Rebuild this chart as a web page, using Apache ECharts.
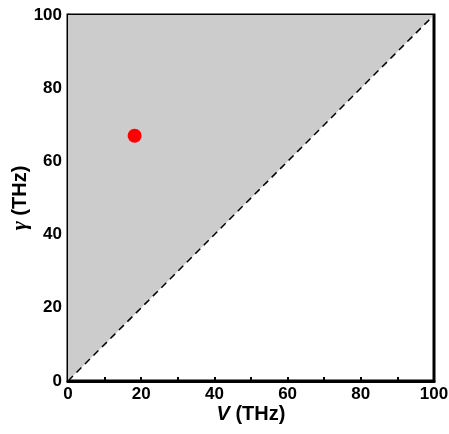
<!DOCTYPE html>
<html>
<head>
<meta charset="utf-8">
<script src="https://cdn.jsdelivr.net/npm/echarts@6/dist/echarts.min.js"></script>
<style>
  html, body { margin: 0; padding: 0; background: #fff; }
  #chart { width: 449px; height: 434px; }
</style>
</head>
<body>
<div id="chart"></div>
<script>
// boundary of the shaded region (y = x)
const diagonal = [[0, 0], [100, 100]]
// measured point
const points = [[18.2, 67]]

const chart = echarts.init(document.getElementById('chart'))

const axisCommon = {
  min: 0,
  max: 100,
  interval: 20,
  axisLine: { show: true, onZero: false, lineStyle: { color: '#000', width: 3 } },
  axisTick: { show: true, inside: true, length: 4, lineStyle: { color: '#000', width: 2 } },
  minorTick: { show: true, splitNumber: 2, length: 4, lineStyle: { color: '#000', width: 2 } },
  splitLine: { show: false },
  axisLabel: {
    color: '#000',
    fontFamily: 'Liberation Sans',
    fontWeight: 'bold',
    fontSize: 17
  },
  nameLocation: 'middle',
  nameMoveOverlap: false,
  nameTextStyle: {
    color: '#000',
    fontFamily: 'Liberation Sans',
    fontWeight: 'bold',
    fontSize: 20
  }
}

const option = {
  animation: false,
  backgroundColor: '#fff',
  grid: {
    left: 68, right: 15, top: 15, bottom: 53,
    outerBoundsMode: 'none',
    show: true, borderColor: '#000', borderWidth: 3
  },
  xAxis: Object.assign({}, axisCommon, {
    type: 'value',
    name: '{i|V} (THz)',
    nameGap: 23,
    nameTextStyle: Object.assign({}, axisCommon.nameTextStyle, {
      rich: { i: { fontStyle: 'italic', fontWeight: 'bold', fontSize: 20, fontFamily: 'Liberation Sans' } }
    }),
    axisLabel: Object.assign({}, axisCommon.axisLabel, { margin: 5 })
  }),
  yAxis: Object.assign({}, axisCommon, {
    type: 'value',
    name: '{i|γ} (THz)',
    nameGap: 37,
    nameTextStyle: Object.assign({}, axisCommon.nameTextStyle, {
      rich: { i: { fontStyle: 'italic', fontWeight: 'bold', fontSize: 22, fontFamily: 'Liberation Serif' } }
    }),
    axisLabel: Object.assign({}, axisCommon.axisLabel, { margin: 6 })
  }),
  series: [
    {
      type: 'line',
      data: diagonal,
      symbol: 'none',
      z: 1,
      lineStyle: { color: '#000', width: 1.5, type: [7, 5] },
      areaStyle: { origin: 'end', color: '#cccccc', opacity: 1 }
    },
    {
      type: 'scatter',
      data: points,
      symbol: 'circle',
      symbolSize: 14,
      z: 3,
      itemStyle: { color: '#ff0000', opacity: 1 }
    }
  ]
}

chart.setOption(option)
</script>
</body>
</html>
